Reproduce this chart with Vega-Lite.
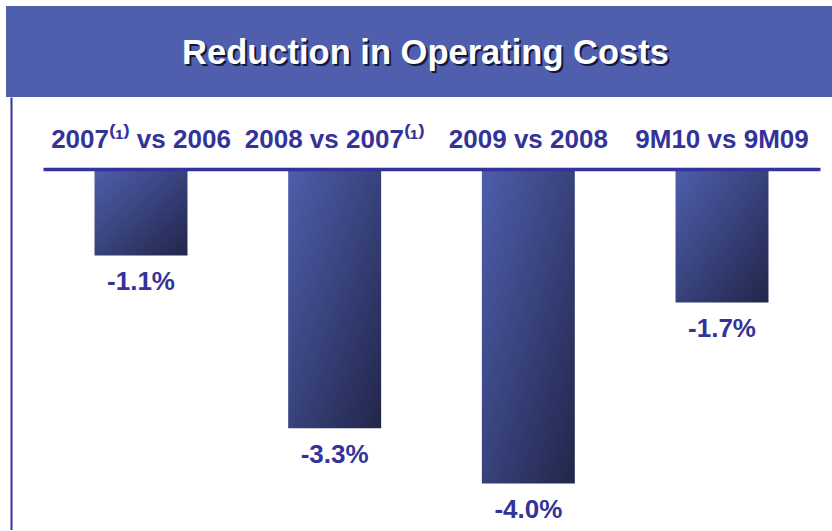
{
  "$schema": "https://vega.github.io/schema/vega-lite/v6.json",
  "padding": {"left": 6, "top": 6, "right": 0, "bottom": 0},
  "autosize": {"type": "pad"},
  "background": "white",
  "spacing": 0,
  "config": {
    "view": {"stroke": null},
    "font": "Liberation Sans",
    "locale": {"number": {"decimal": ".", "thousands": ",", "grouping": [3], "currency": ["$", ""], "minus": "-"}}
  },
  "vconcat": [
    {
      "width": 826,
      "height": 91,
      "view": {"fill": "#4f5fae", "stroke": null},
      "data": {"values": [{"title": "Reduction in Operating Costs"}]},
      "layer": [
        {
          "mark": {"type": "text", "font": "Liberation Sans", "fontWeight": "bold", "fontSize": 34.5, "color": "#14163a", "baseline": "alphabetic", "align": "center", "dx": 8.5, "dy": 14.5},
          "encoding": {"text": {"field": "title"}}
        },
        {
          "mark": {"type": "text", "font": "Liberation Sans", "fontWeight": "bold", "fontSize": 34.5, "color": "white", "baseline": "alphabetic", "align": "center", "dx": 6.5, "dy": 12.5},
          "encoding": {"text": {"field": "title"}}
        }
      ]
    },
    {
      "width": 826,
      "height": 433,
      "data": {"values": [
        {"period": "2007⁽¹⁾ vs 2006", "change": -0.011},
        {"period": "2008 vs 2007⁽¹⁾", "change": -0.033},
        {"period": "2009 vs 2008", "change": -0.040},
        {"period": "9M10 vs 9M09", "change": -0.017}
      ]},
      "encoding": {
        "x": {
          "field": "period", "type": "nominal", "sort": null,
          "scale": {"range": [37, 814], "paddingInner": 0.52, "paddingOuter": 0.266},
          "axis": {
            "orient": "top", "offset": -72, "title": null,
            "domainColor": "#333399", "domainWidth": 3.4,
            "ticks": false, "labelAngle": 0, "labelLimit": 400,
            "labelFont": "Liberation Sans", "labelFontWeight": "bold", "labelFontSize": 26,
            "labelColor": "#333399", "labelPadding": 22, "labelBaseline": "alphabetic",
            "zindex": 1
          }
        },
        "y": {
          "field": "change", "type": "quantitative",
          "scale": {"domain": [-0.04593, 0.00916], "nice": false, "zero": false},
          "axis": {
            "orient": "left", "offset": -5, "title": null, "labels": false, "grid": false,
            "ticks": false, "domainColor": "#3535a0", "domainWidth": 2
          }
        }
      },
      "layer": [
        {
          "mark": {"type": "bar", "fill": {"gradient": "linear", "x1": 0, "y1": 0, "x2": 1, "y2": 1, "stops": [{"offset": 0, "color": "#4e5ead"}, {"offset": 1, "color": "#22264a"}]}}
        },
        {
          "mark": {"type": "text", "font": "Liberation Sans", "fontWeight": "bold", "fontSize": 26, "color": "#333399", "baseline": "alphabetic", "align": "center", "dy": 34.5},
          "encoding": {"text": {"field": "change", "format": ".1%"}}
        }
      ]
    }
  ]
}
